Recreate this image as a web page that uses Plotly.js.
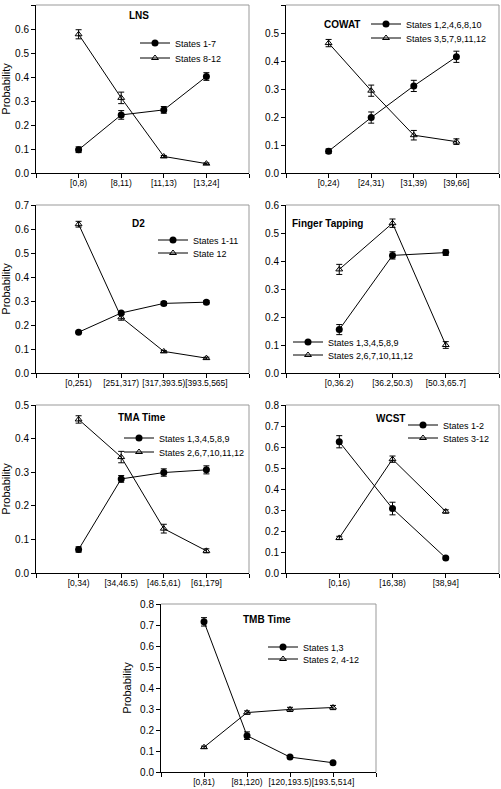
<!DOCTYPE html>
<html><head><meta charset="utf-8">
<script src="https://cdn.plot.ly/plotly-3.0.1.min.js"></script>
<style>html,body{margin:0;padding:0;background:#fff}</style>
</head><body><div id="chart" style="width:501px;height:789px"></div>
<script>
// ---- data ----
const lnsCats = ['[0,8)','[8,11)','[11,13)','[13,24]'];
const lnsA = [0.097, 0.242, 0.263, 0.402];
const lnsAErr = [0.012, 0.018, 0.014, 0.016];
const lnsB = [0.578, 0.313, 0.069, 0.039];
const lnsBErr = [0.019, 0.024, 0.004, 0.003];

const cowatCats = ['[0,24)','[24,31)','[31,39)','[39,66]'];
const cowatA = [0.078, 0.198, 0.311, 0.415];
const cowatAErr = [0.008, 0.02, 0.02, 0.02];
const cowatB = [0.464, 0.294, 0.135, 0.112];
const cowatBErr = [0.013, 0.02, 0.017, 0.01];

const d2Cats = ['[0,251)','[251,317)','[317,393.5)','[393.5,565]'];
const d2A = [0.17, 0.25, 0.29, 0.295];
const d2AErr = [0.004, 0.006, 0.008, 0.007];
const d2B = [0.62, 0.232, 0.09, 0.062];
const d2BErr = [0.012, 0.012, 0.004, 0.004];

const ftCats = ['[0,36.2)','[36.2,50.3)','[50.3,65.7]'];
const ftA = [0.155, 0.42, 0.43];
const ftAErr = [0.018, 0.013, 0.01];
const ftB = [0.37, 0.535, 0.10];
const ftBErr = [0.018, 0.015, 0.012];

const tmaCats = ['[0,34)','[34,46.5)','[46.5,61)','[61,179]'];
const tmaA = [0.07, 0.28, 0.299, 0.307];
const tmaAErr = [0.008, 0.01, 0.011, 0.012];
const tmaB = [0.457, 0.345, 0.132, 0.066];
const tmaBErr = [0.011, 0.017, 0.013, 0.006];

const wcstCats = ['[0,16)','[16,38)','[38,94]'];
const wcstA = [0.625, 0.307, 0.072];
const wcstAErr = [0.029, 0.03, 0.005];
const wcstB = [0.167, 0.542, 0.293];
const wcstBErr = [0.008, 0.015, 0.008];

const tmbCats = ['[0,81)','[81,120)','[120,193.5)','[193.5,514]'];
const tmbA = [0.715, 0.173, 0.071, 0.044];
const tmbAErr = [0.02, 0.018, 0.005, 0.004];
const tmbB = [0.118, 0.283, 0.298, 0.307];
const tmbBErr = [0.005, 0.008, 0.01, 0.01];

const panelTitles = ['LNS','COWAT','D2','Finger Tapping','TMA Time','WCST','TMB Time'];
const seriesA = ['States 1-7','States 1,2,4,6,8,10','States 1-11','States 1,3,4,5,8,9','States 1,3,4,5,8,9','States 1-2','States 1,3'];
const seriesB = ['States 8-12','States 3,5,7,9,11,12','State 12','States 2,6,7,10,11,12','States 2,6,7,10,11,12','States 3-12','States 2, 4-12'];
const yMax = [0.7, 0.6, 0.7, 0.6, 0.5, 0.8, 0.8];
const yAxisTitle = 'Probability';

// ---- layout helpers ----
const W = 501, H = 789;
const FONT = '"Liberation Sans", Arial, Helvetica, sans-serif';
const px2x = p => p / W;
const px2y = p => 1 - p / H;

const panels = [
  {cats: lnsCats, a: lnsA, ae: lnsAErr, b: lnsB, be: lnsBErr, bx:[36,249], by:[5,173], tp:[139,15,'center'], lg:[143,43,58], yt:true},
  {cats: cowatCats, a: cowatA, ae: cowatAErr, b: cowatB, be: cowatBErr, bx:[286,499], by:[5,173], tp:[342,24,'center'], lg:[374,24,38], yt:false},
  {cats: d2Cats, a: d2A, ae: d2AErr, b: d2B, be: d2BErr, bx:[36,249], by:[205,373], tp:[138,223,'center'], lg:[161,240,253], yt:true},
  {cats: ftCats, a: ftA, ae: ftAErr, b: ftB, be: ftBErr, bx:[286,499], by:[205,373], tp:[290,223,'left'], lg:[296,342,355], yt:false},
  {cats: tmaCats, a: tmaA, ae: tmaAErr, b: tmaB, be: tmaBErr, bx:[36,249], by:[405,573], tp:[142,417,'center'], lg:[127,438,452], yt:true},
  {cats: wcstCats, a: wcstA, ae: wcstAErr, b: wcstB, be: wcstBErr, bx:[286,499], by:[405,573], tp:[390,419,'center'], lg:[411,425,438], yt:false},
  {cats: tmbCats, a: tmbA, ae: tmbAErr, b: tmbB, be: tmbBErr, bx:[161,376], by:[604,772], tp:[267,619,'center'], lg:[271,647,659], yt:true}
];

const traces = [];
const layout = {
  width: W, height: H,
  margin: {l:0, r:0, t:0, b:0},
  paper_bgcolor: '#fff', plot_bgcolor: '#fff',
  font: {family: FONT, size: 10, color: '#000'},
  showlegend: true,
  annotations: [], shapes: []
};

panels.forEach((p, i) => {
  const k = i + 1;
  const xn = k === 1 ? 'x' : 'x' + k;
  const yn = k === 1 ? 'y' : 'y' + k;
  const xa = k === 1 ? 'xaxis' : 'xaxis' + k;
  const ya = k === 1 ? 'yaxis' : 'yaxis' + k;
  const n = p.cats.length;
  const xs = p.cats.map((c, j) => j + 1);
  const la = 'legend' + (2*i + 1 === 1 ? '' : (2*i + 1));
  const lb = 'legend' + (2*i + 2);

  traces.push({
    type: 'scatter', mode: 'lines+markers', x: xs, y: p.a, xaxis: xn, yaxis: yn,
    name: seriesA[i], legend: la,
    line: {color: '#000', width: 1},
    marker: {symbol: 'circle', size: 7, color: '#000'},
    error_y: {type: 'data', array: p.ae, visible: true, color: '#000', thickness: 1, width: 3}
  });
  traces.push({
    type: 'scatter', mode: 'lines+markers', x: xs, y: p.b, xaxis: xn, yaxis: yn,
    name: seriesB[i], legend: lb,
    line: {color: '#000', width: 1},
    marker: {symbol: 'triangle-up-open', size: 6, color: '#000', line: {color: '#000', width: 1}},
    error_y: {type: 'data', array: p.be, visible: true, color: '#000', thickness: 1, width: 3}
  });

  layout[xa] = {
    domain: [px2x(p.bx[0]), px2x(p.bx[1])], anchor: yn,
    range: [0, n + 1], showgrid: false, zeroline: false,
    showline: true, linecolor: '#000', linewidth: 1,
    ticks: 'outside', ticklen: 4, tickwidth: 1, tickcolor: '#000',
    tickmode: 'array', tickvals: [0].concat(xs, [n + 1]),
    ticktext: [''].concat(p.cats, ['']), tickangle: 0, ticklabelstandoff: -2,
    tickfont: {size: 8.5, family: FONT}, fixedrange: true
  };
  layout[ya] = {
    domain: [px2y(p.by[1]), px2y(p.by[0])], anchor: xn,
    range: [0, yMax[i]], showgrid: false, zeroline: false,
    showline: true, linecolor: '#000', linewidth: 1,
    ticks: 'outside', ticklen: 4, tickwidth: 1, tickcolor: '#000',
    dtick: 0.1, tick0: 0, tickformat: '.1f',
    tickfont: {size: 10, family: FONT}, fixedrange: true,
    title: p.yt ? {text: yAxisTitle, font: {size: 11, family: FONT}, standoff: 6} : {text: ''}
  };
  // gray top & right frame
  layout.shapes.push({type:'line', xref: xn + ' domain', yref: yn + ' domain', x0:0, x1:1, y0:1, y1:1, line:{color:'#999', width:1}});
  layout.shapes.push({type:'line', xref: xn + ' domain', yref: yn + ' domain', x0:1, x1:1, y0:0, y1:1, line:{color:'#999', width:1}});
  // panel title
  layout.annotations.push({
    text: '<b>' + panelTitles[i] + '</b>', xref: 'paper', yref: 'paper',
    x: px2x(p.tp[0]), y: px2y(p.tp[1]), xanchor: p.tp[2], yanchor: 'middle',
    showarrow: false, font: {size: 10, family: FONT, color: '#000'}
  });
  // legends
  const lgBase = {xanchor: 'left', yanchor: 'middle', bgcolor: 'rgba(0,0,0,0)', borderwidth: 0,
    font: {size: 9, family: FONT, color: '#000'}, itemwidth: 30};
  layout[la] = Object.assign({}, lgBase, {x: px2x(p.lg[0] - 8), y: px2y(p.lg[1])});
  layout[lb] = Object.assign({}, lgBase, {x: px2x(p.lg[0] - 8), y: px2y(p.lg[2])});
});

Plotly.newPlot('chart', traces, layout, {staticPlot: true, displayModeBar: false});
</script>
</body></html>
